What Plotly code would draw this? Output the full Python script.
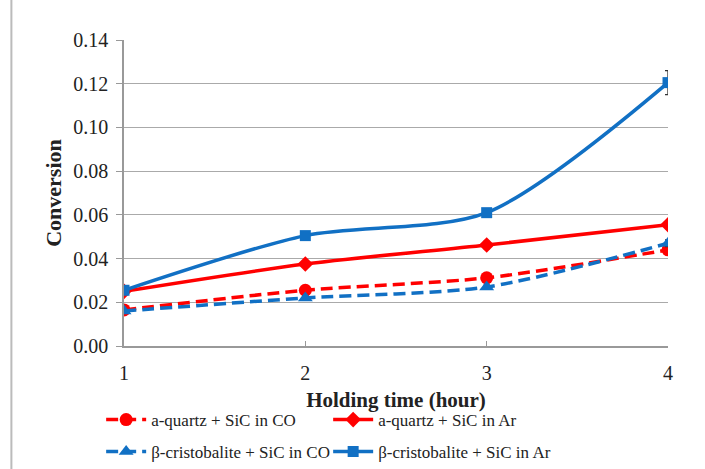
import plotly.graph_objects as go

hours = [1, 2, 3, 4]
aq_co = [0.0165, 0.0255, 0.0312, 0.0440]
aq_ar = [0.0250, 0.0375, 0.0462, 0.0555]
bc_co = [0.0160, 0.0220, 0.0270, 0.0470]
bc_ar = [0.0255, 0.0505, 0.0610, 0.1205]
aq_co_err = [0.001, 0.001, 0.001, 0.001]
aq_ar_err = [0.001, 0.001, 0.0018, 0.0018]
bc_co_err = [0.001, 0.001, 0.001, 0.0015]
bc_ar_err = [0.001, 0.001, 0.0018, 0.0055]
names = ["a-quartz + SiC in CO", "a-quartz + SiC in Ar",
         "β-cristobalite + SiC in CO", "β-cristobalite + SiC in Ar"]

RED = "#FF0000"
BLUE = "#1170C4"
FONT = "Liberation Serif"

fig = go.Figure()
specs = [
    (aq_co, aq_co_err, RED, "12px,6px", "circle", 13, names[0], "legend"),
    (aq_ar, aq_ar_err, RED, "solid", "diamond", 12, names[1], "legend"),
    (bc_co, bc_co_err, BLUE, "12px,6px", "triangle-up", 13, names[2], "legend2"),
    (bc_ar, bc_ar_err, BLUE, "solid", "square", 11, names[3], "legend2"),
]
for ys, err, col, dash, sym, size, nm, lg in specs:
    fig.add_trace(go.Scatter(
        x=hours, y=ys, name=nm, mode="lines+markers", legend=lg,
        line=dict(color=col, width=3.5, dash=dash, shape="spline", smoothing=0.8),
        marker=dict(symbol=sym, size=size, color=col),
        error_y=dict(type="data", array=err, visible=True, color="#333333",
                     thickness=1.3, width=3),
    ))

leg_common = dict(orientation="h", x=-0.042, xanchor="left", yanchor="middle",
                  entrywidth=172, traceorder="normal", itemwidth=40,
                  font=dict(size=17), bgcolor="rgba(0,0,0,0)")

fig.update_layout(
    width=705, height=469,
    margin=dict(l=124, r=37, t=40, b=123, autoexpand=False),
    plot_bgcolor="white", paper_bgcolor="white",
    font=dict(family=FONT, size=20, color="#222222"),
    xaxis=dict(range=[1, 4], tickvals=hours, ticks="inside", ticklen=5,
               tickcolor="#999999", showgrid=False, showline=True,
               linecolor="#999999", linewidth=1.5, zeroline=False,
               automargin=False,
               ticklabelstandoff=8, tickfont=dict(size=20),
               title=dict(text="<b>Holding time (hour)</b>", standoff=10,
                          font=dict(size=21))),
    yaxis=dict(range=[0, 0.14], dtick=0.02, tickformat=".2f",
               ticks="outside", ticklen=6, tickcolor="#999999",
               showgrid=True, gridcolor="#AAAAAA", gridwidth=1.2,
               showline=True, linecolor="#999999", linewidth=1.5,
               zeroline=False, ticklabelstandoff=4, tickfont=dict(size=20),
               automargin=False,
               title=dict(text="<b>Conversion</b>", standoff=6,
                          font=dict(size=22))),
    legend=dict(y=-0.242, **leg_common),
    legend2=dict(y=-0.346, **leg_common),
    showlegend=True,
)
fig.add_shape(type="line", xref="paper", yref="paper",
              x0=-0.207, x1=-0.207, y0=-0.5, y1=1.2,
              line=dict(color="#BBBBBB", width=2))
fig.write_html("out.html")
